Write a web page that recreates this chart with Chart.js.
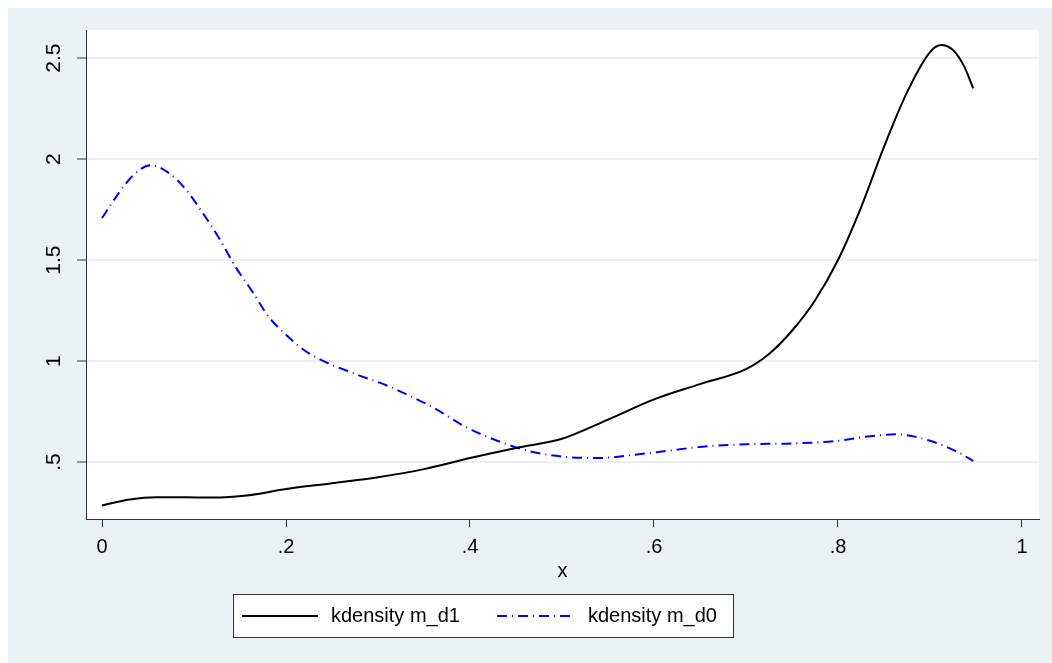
<!DOCTYPE html>
<html>
<head>
<meta charset="utf-8">
<script src="https://cdn.jsdelivr.net/npm/chart.js@4"></script>
<style>
  html, body { margin: 0; padding: 0; background: #fff; }
  #wrap { width: 1052px; height: 663px; }
</style>
</head>
<body>
<div id="wrap"><canvas id="myChart" width="1052" height="663"></canvas></div>
<script>
// kdensity m_d1 (black, solid)
var xD1 = [0, 0.03, 0.06, 0.09, 0.12, 0.16, 0.2, 0.25, 0.3, 0.35, 0.4, 0.45, 0.5, 0.55, 0.6, 0.65, 0.7, 0.725, 0.75, 0.775, 0.8, 0.825, 0.85, 0.875, 0.9, 0.912, 0.925, 0.937, 0.947];
var yD1 = [0.285, 0.315, 0.326, 0.326, 0.324, 0.336, 0.366, 0.395, 0.425, 0.465, 0.52, 0.57, 0.615, 0.71, 0.81, 0.886, 0.96, 1.035, 1.15, 1.30, 1.50, 1.76, 2.06, 2.33, 2.53, 2.565, 2.54, 2.46, 2.35];

// kdensity m_d0 (blue, dash-dot)
var xD0 = [0, 0.018, 0.034, 0.053, 0.073, 0.091, 0.11, 0.127, 0.146, 0.164, 0.181, 0.2, 0.218, 0.236, 0.273, 0.309, 0.338, 0.36, 0.397, 0.433, 0.468, 0.505, 0.541, 0.577, 0.614, 0.65, 0.7, 0.75, 0.8, 0.83, 0.864, 0.9, 0.93, 0.947];
var yD0 = [1.708, 1.83, 1.92, 1.97, 1.93, 1.85, 1.73, 1.61, 1.46, 1.34, 1.22, 1.13, 1.06, 1.01, 0.94, 0.88, 0.82, 0.77, 0.67, 0.60, 0.55, 0.525, 0.52, 0.535, 0.555, 0.575, 0.588, 0.592, 0.605, 0.625, 0.637, 0.605, 0.55, 0.505];

var xTicks = [0, 0.2, 0.4, 0.6, 0.8, 1];
var yTicks = [0.5, 1, 1.5, 2, 2.5];
var seriesLabels = ["kdensity m_d1", "kdensity m_d0"];

function pts(xs, ys) {
    return xs.map(function (x, i) { return {x: x, y: ys[i]}; });
}
// Stata style: drop the leading zero
function stataLabel(v) {
    var s = String(Math.round(v * 10) / 10);
    return s.replace(/^0\./, '.');
}

var BG = 'rgb(234,242,243)';
var FONT = '"Liberation Sans", Arial, sans-serif';

// background, white plot region, legend box
var stataFrame = {
    id: 'stataFrame',
    beforeDraw: function (chart) {
        var c = chart.ctx, a = chart.chartArea;
        c.save();
        c.fillStyle = '#fff';
        c.fillRect(0, 0, chart.width, chart.height);
        c.fillStyle = BG;
        c.fillRect(8, 8, chart.width - 8, chart.height - 8);
        c.fillStyle = '#fff';
        c.fillRect(a.left, a.top, a.right - a.left, a.bottom - a.top);
        c.restore();
    },
    afterDraw: function (chart) {
        var c = chart.ctx;
        var ds = chart.data.datasets;
        c.save();
        c.fillStyle = '#fff';
        c.fillRect(233.5, 594.5, 500, 43);
        c.strokeStyle = '#333';
        c.lineWidth = 1;
        c.strokeRect(233.5, 594.5, 500, 43);
        var slots = [[242, 318, 331], [497, 574, 588]];
        c.font = '20px ' + FONT;
        c.textBaseline = 'middle';
        c.textAlign = 'left';
        for (var i = 0; i < ds.length; i++) {
            var s = slots[i];
            c.beginPath();
            c.strokeStyle = ds[i].borderColor;
            c.lineWidth = ds[i].borderWidth;
            c.setLineDash(ds[i].borderDash || []);
            c.moveTo(s[0], 616);
            c.lineTo(s[1], 616);
            c.stroke();
            c.setLineDash([]);
            c.fillStyle = '#000';
            c.fillText(ds[i].label, s[2], 616);
        }
        c.restore();
    }
};

var ctx = document.getElementById('myChart').getContext('2d');
var chart = new Chart(ctx, {
    type: 'line',
    data: {
        datasets: [{
            label: seriesLabels[0],
            data: pts(xD1, yD1),
            borderColor: '#000',
            borderWidth: 2,
            pointRadius: 0,
            cubicInterpolationMode: 'monotone',
            fill: false
        },
        {
            label: seriesLabels[1],
            data: pts(xD0, yD0),
            borderColor: 'rgb(0,0,255)',
            borderWidth: 2,
            borderDash: [10, 5, 1, 5],
            pointRadius: 0,
            cubicInterpolationMode: 'monotone',
            fill: false
        }]
    },
    options: {
        responsive: false,
        animation: false,
        layout: { padding: { left: 0, top: 30, right: 13, bottom: 76 } },
        plugins: {
            legend: { display: false },
            tooltip: { enabled: false }
        },
        scales: {
            x: {
                type: 'linear',
                min: -0.0174,
                max: 1.0185,
                afterBuildTicks: function (s) { s.ticks = xTicks.map(function (v) { return {value: v}; }); },
                afterFit: function (s) { s.height = 68; },
                ticks: {
                    callback: function (v) { return stataLabel(v); },
                    color: '#000',
                    font: { family: FONT, size: 20 },
                    padding: 8,
                    maxRotation: 0
                },
                grid: { drawOnChartArea: false, tickLength: 8, tickColor: '#333', tickWidth: 1 },
                border: { display: true, color: '#333', width: 1 },
                title: { display: true, text: 'x', color: '#000', font: { family: FONT, size: 20 }, padding: { top: 4, bottom: 4 } }
            },
            y: {
                min: 0.218,
                max: 2.639,
                afterBuildTicks: function (s) { s.ticks = yTicks.map(function (v) { return {value: v}; }); },
                afterFit: function (s) { s.width = 86; },
                ticks: {
                    callback: function (v) { return stataLabel(v); },
                    color: '#000',
                    font: { family: FONT, size: 21 },
                    minRotation: 90,
                    maxRotation: 90,
                    crossAlign: 'center',
                    padding: 8
                },
                grid: { color: 'rgb(234,241,244)', lineWidth: 2, tickLength: 9, tickColor: '#333', tickWidth: 1 },
                border: { display: true, color: '#333', width: 1 }
            }
        }
    },
    plugins: [stataFrame]
});
</script>
</body>
</html>
